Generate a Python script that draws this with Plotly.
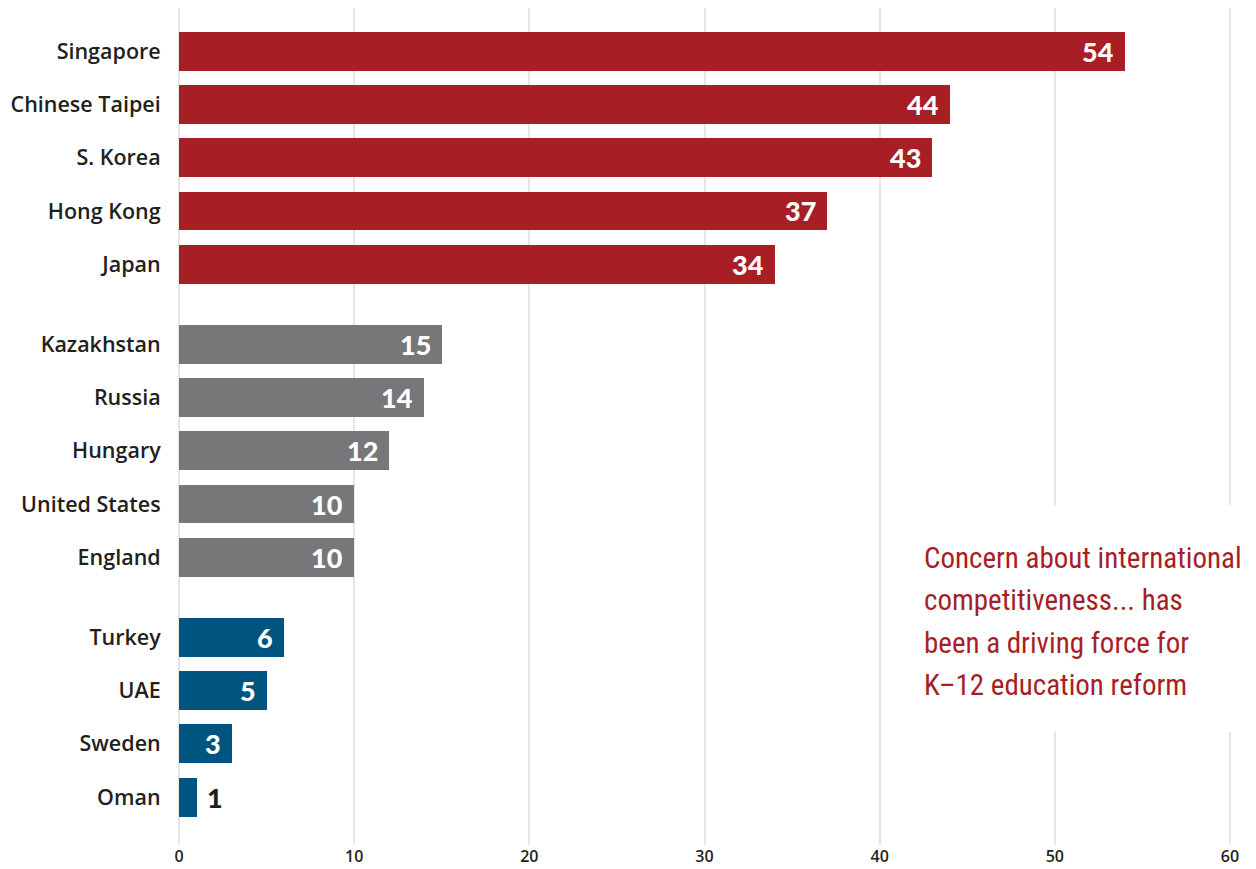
import plotly.graph_objects as go

countries = ["Singapore", "Chinese Taipei", "S. Korea", "Hong Kong", "Japan",
             "Kazakhstan", "Russia", "Hungary", "United States", "England",
             "Turkey", "UAE", "Sweden", "Oman"]
values = [54, 44, 43, 37, 34, 15, 14, 12, 10, 10, 6, 5, 3, 1]
groups = [0, 0, 0, 0, 0, 1, 1, 1, 1, 1, 2, 2, 2, 2]
group_colors = ["#a71f24", "#77777a", "#005480"]
x_ticks = [0, 10, 20, 30, 40, 50, 60]
note_lines = ["Concern about international", "competitiveness... has",
              "been a driving force for", "K\u201312 education reform"]

GAP = 0.5
ypos = [i + GAP * g for i, g in enumerate(groups)]
colors = [group_colors[g] for g in groups]

fig = go.Figure()
fig.add_trace(go.Bar(
    x=values, y=ypos, orientation="h", marker=dict(color=colors, line=dict(width=0)),
    width=0.73, hoverinfo="skip"))

for v, y in zip(values, ypos):
    inside = v >= 3
    fig.add_annotation(
        x=v, y=y, xref="x", yref="y", text=str(v), showarrow=False,
        xanchor="right" if inside else "left", yanchor="middle",
        xshift=-9 if inside else 8, yshift=0,
        font=dict(family="Lato", size=27, weight=900,
                  color="white" if inside else "#231f20"))

fig.update_layout(
    width=1256, height=869, plot_bgcolor="white", paper_bgcolor="white",
    margin=dict(l=170, r=33, t=0, b=32, autoexpand=False), showlegend=False, bargap=0,
    xaxis=dict(range=[-0.06, 60.06], tickvals=x_ticks, showgrid=True, gridcolor="#e6e6e6",
               gridwidth=1.5, zeroline=False, showline=False, ticks="",
               tickfont=dict(family="Open Sans", size=16, color="#231f20", weight=600)),
    yaxis=dict(range=[ypos[-1] + 0.9, -0.81], tickvals=ypos, ticktext=countries,
               showgrid=False, zeroline=False, showline=False, ticks="outside",
               ticklen=12, tickcolor="rgba(0,0,0,0)",
               tickfont=dict(family="Open Sans", size=21.5, color="#231f20", weight=600)),
)

fig.add_shape(type="rect", xref="paper", yref="paper", x0=0.70, x1=1.05,
              y0=(845 - 732) / 837, y1=(845 - 505) / 837,
              fillcolor="white", line=dict(width=0), layer="above")

for k, line in enumerate(note_lines):
    fig.add_annotation(
        text=line, xref="paper", yref="paper", x=(922 - 178) / 1053,
        y=(845 - (558 + 42.3 * k)) / 837, xanchor="left", yanchor="middle",
        showarrow=False,
        font=dict(family="Roboto Condensed, Roboto, sans-serif",
                  size=29, color="#a71f24"))

fig.write_html("out.html")
